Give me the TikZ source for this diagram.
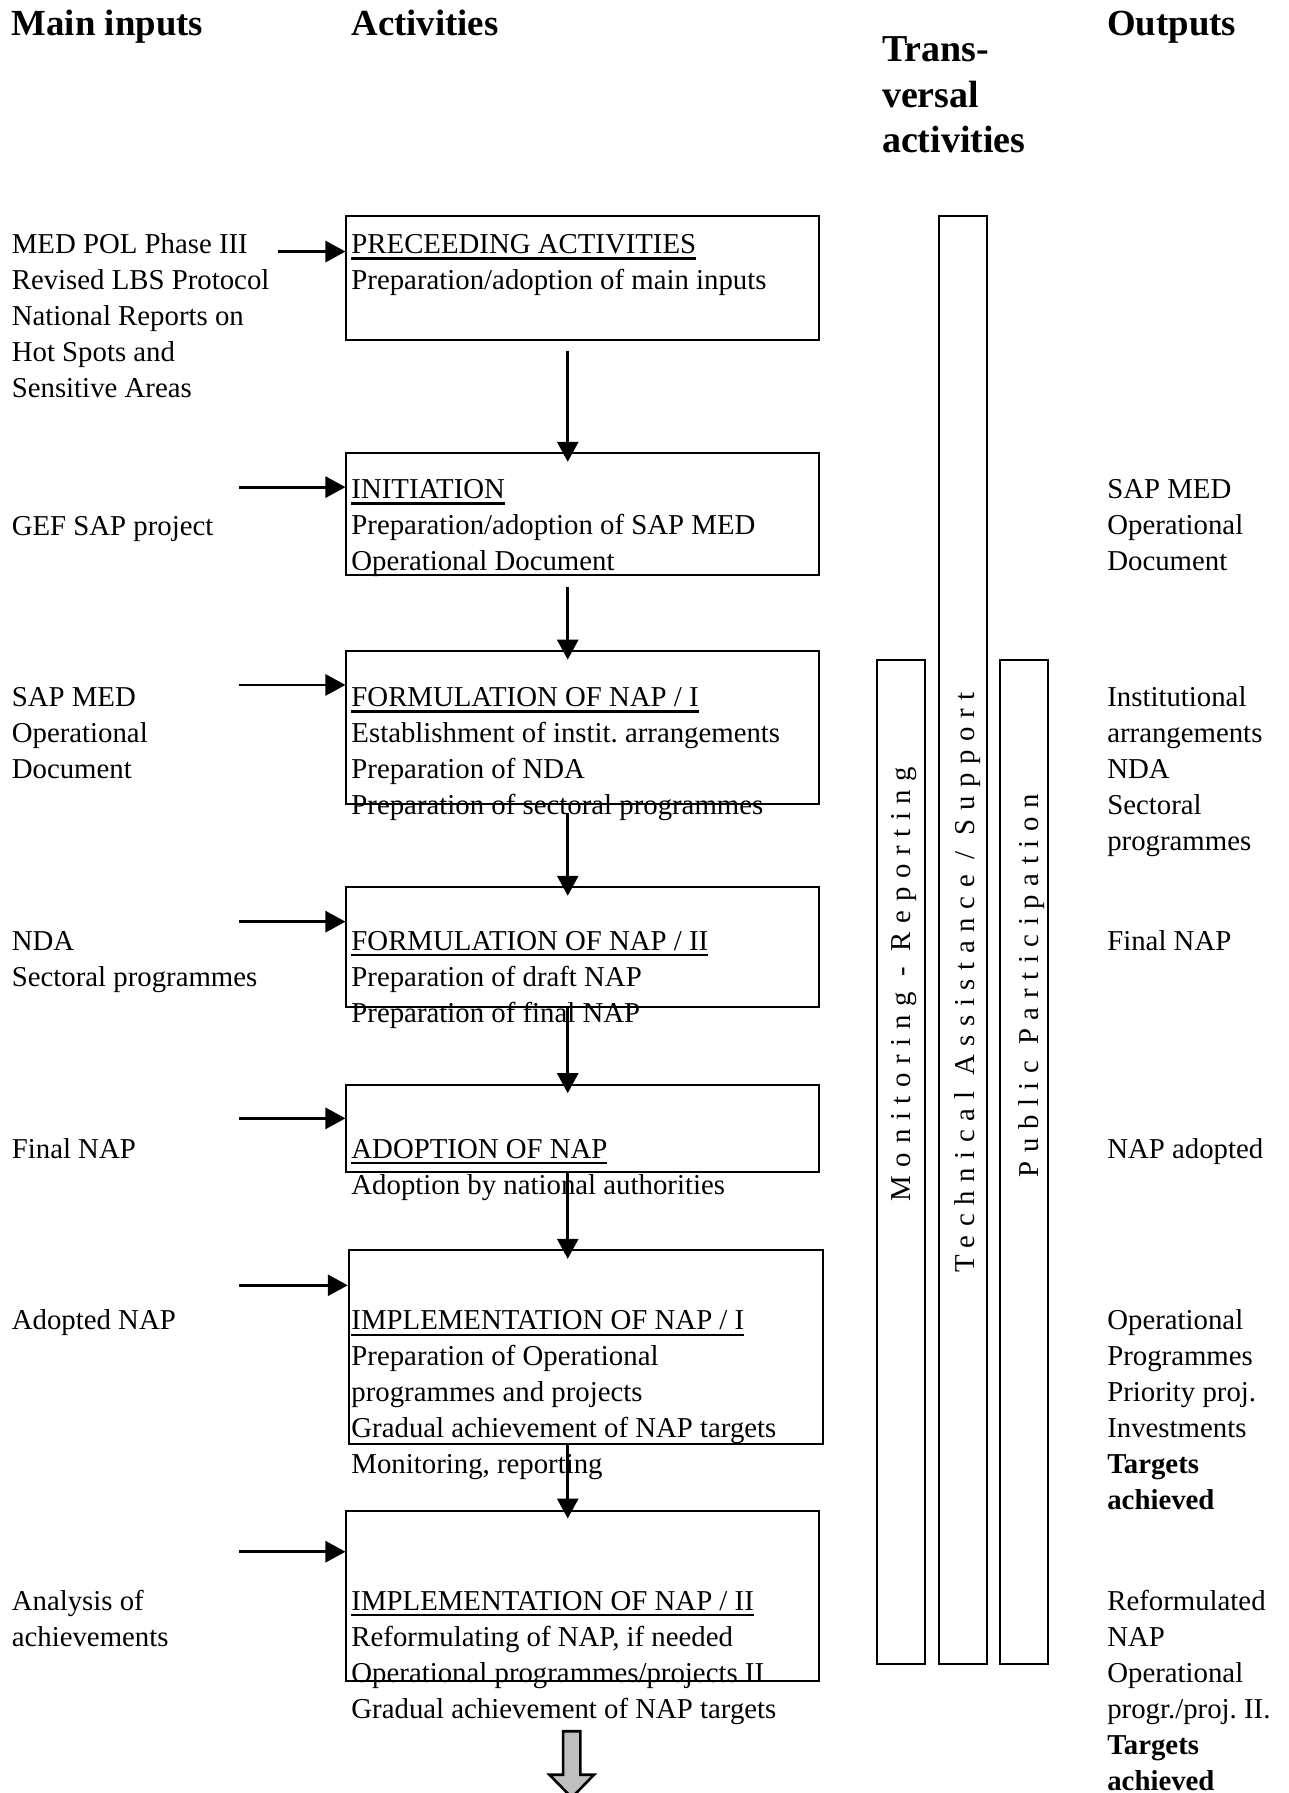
\documentclass[tikz,border=0pt]{standalone}
\usepackage{fontspec}
\setmainfont{Liberation Serif}
\usepackage{tikz}
\usetikzlibrary{arrows.meta, calc}
\frenchspacing

\newlength{\pxu}\setlength{\pxu}{0.5718pt}
\newsavebox{\ulbox}
\newcommand{\ulhead}[1]{\sbox{\ulbox}{#1}\rlap{\rule[-3pt]{\wd\ulbox}{1.2pt}}\usebox{\ulbox}}
\newcommand{\lines}[1]{\begin{tabular}[t]{@{}l@{}}#1\end{tabular}}
\newcommand{\bodyfont}{\fontsize{14.4}{18}\selectfont}
\newcommand{\headfont}{\fontsize{18.4}{22.8}\selectfont\bfseries}
\newcommand{\transfont}{\fontsize{19}{22.8}\selectfont\bfseries}
\newcommand{\barfont}{\fontsize{14.4}{18}\selectfont\addfontfeatures{LetterSpace=30}}

\tikzset{
  actbox/.style={draw, line width=1pt, minimum width=413\pxu},
  sidebar/.style={draw, line width=1pt, minimum width=42\pxu},
  txt/.style={anchor=base west, inner sep=0pt, font=\bodyfont},
  head/.style={txt, font=\headfont},
  bartxt/.style={anchor=base, rotate=90, inner sep=0pt, font=\barfont},
  flow/.style={-{Triangle[length=10pt,width=10.5pt]}, line width=1.4pt}
}

\begin{document}
\begin{tikzpicture}[x=\pxu, y=-\pxu]
\useasboundingbox (0,0) rectangle (1127,1568);

% Column headers
\node[head] (hin) at (10,31) {Main inputs};
\node[head] (hact) at (307,31) {Activities};
\node[head] (hout) at (968,31) {Outputs};
\node[head, font=\transfont] (htrans) at (771,54) {\lines{Trans-\\versal\\activities}};

% Activity boxes
\node[actbox, minimum height=108\pxu] (prec) at (509.5,243) {};
\node[actbox, minimum height=107\pxu] (init) at (509.5,449.5) {};
\node[actbox, minimum height=134\pxu] (form1) at (509.5,636) {};
\node[actbox, minimum height=105\pxu] (form2) at (509.5,828) {};
\node[actbox, minimum height=76\pxu] (adopt) at (509.5,987) {};
\node[actbox, minimum width=415\pxu, minimum height=170\pxu] (impl1) at (512.5,1178) {};
\node[actbox, minimum height=149\pxu] (impl2) at (509.5,1395.5) {};

% Transversal bars
\node[sidebar, minimum height=878\pxu] (monit) at (788,1016) {};
\node[sidebar, minimum height=1266\pxu] (techn) at (842,822) {};
\node[sidebar, minimum height=878\pxu] (public) at (895.5,1016) {};
\node[bartxt] (tmonit) at (796,860.5) {Monitoring - Reporting};
\node[bartxt] (ttechn) at (852.5,859) {Technical Assistance / Support};
\node[bartxt] (tpublic) at (908,862) {Public Participation};

% Main inputs
\node[txt] (inmed) at (10,222) {\lines{MED POL Phase III\\Revised LBS Protocol\\National Reports on\\Hot Spots and\\Sensitive Areas}};
\node[txt] (ingef) at (10,468) {GEF SAP project};
\node[txt] (insap) at (10,618) {\lines{SAP MED\\Operational\\Document}};
\node[txt] (innda) at (10,831) {\lines{NDA\\Sectoral programmes}};
\node[txt] (infinal) at (10,1013) {Final NAP};
\node[txt] (inadopt) at (10,1163) {Adopted NAP};
\node[txt] (inanal) at (10,1408) {\lines{Analysis of\\achievements}};

% Activities
\node[txt] (tprec) at (307,222) {\lines{\ulhead{PRECEEDING ACTIVITIES}\\Preparation/adoption of main inputs}};
\node[txt] (tinit) at (307,436) {\lines{\ulhead{INITIATION}\\Preparation/adoption of SAP MED\\Operational Document}};
\node[txt] (tform1) at (307,618) {\lines{\ulhead{FORMULATION OF NAP / I}\\Establishment of instit. arrangements\\Preparation of NDA\\Preparation of sectoral programmes}};
\node[txt] (tform2) at (307,831) {\lines{\ulhead{FORMULATION OF NAP / II}\\Preparation of draft NAP\\Preparation of final NAP}};
\node[txt] (tadopt) at (307,1013) {\lines{\ulhead{ADOPTION OF NAP}\\Adoption by national authorities}};
\node[txt] (timpl1) at (307,1163) {\lines{\ulhead{IMPLEMENTATION OF NAP / I}\\Preparation of Operational\\programmes and projects\\Gradual achievement of NAP targets\\Monitoring, reporting}};
\node[txt] (timpl2) at (307,1408) {\lines{\ulhead{IMPLEMENTATION OF NAP / II}\\Reformulating of NAP, if needed\\Operational programmes/projects II\\Gradual achievement of NAP targets}};

% Outputs
\node[txt] (osap) at (968,436) {\lines{SAP MED\\Operational\\Document}};
\node[txt] (oform1) at (968,618) {\lines{Institutional\\arrangements\\NDA\\Sectoral\\programmes}};
\node[txt] (oform2) at (968,831) {Final NAP};
\node[txt] (oadopt) at (968,1013) {NAP adopted};
\node[txt] (oimpl1) at (968,1163) {\lines{Operational\\Programmes\\Priority proj.\\Investments\\\textbf{Targets}\\\textbf{achieved}}};
\node[txt] (oimpl2) at (968,1408) {\lines{Reformulated\\NAP\\Operational\\progr./proj. II.\\\textbf{Targets}\\\textbf{achieved}}};

% Input arrows
\coordinate (a1) at (243,220);
\coordinate (a2) at (209,426);
\coordinate (a3) at (209,599);
\coordinate (a4) at (209,806);
\coordinate (a5) at (209,978);
\coordinate (a6) at (209,1124);
\coordinate (a7) at (209,1357);
\draw[flow] (a1) -- (prec.west |- a1);
\draw[flow] (a2) -- (init.west |- a2);
\draw[flow] (a3) -- (form1.west |- a3);
\draw[flow] (a4) -- (form2.west |- a4);
\draw[flow] (a5) -- (adopt.west |- a5);
\draw[flow] (a6) -- (impl1.west |- a6);
\draw[flow] (a7) -- (impl2.west |- a7);

% Sequence arrows
\coordinate (axis) at (496.5,0);
\draw[flow, shorten <=5pt, shorten >=-5pt] (prec.south -| axis) -- (init.north -| axis);
\draw[flow, shorten <=5.5pt, shorten >=-5pt] (init.south -| axis) -- (form1.north -| axis);
\draw[flow, shorten <=4pt, shorten >=-5pt] (form1.south -| axis) -- (form2.north -| axis);
\draw[flow, shorten >=-4.5pt] (form2.south -| axis) -- (adopt.north -| axis);
\draw[flow, shorten >=-5pt] (adopt.south -| axis) -- (impl1.north -| axis);
\draw[flow, shorten >=-4.5pt] (impl1.south -| axis) -- (impl2.north -| axis);

% Continuation arrow
\coordinate (next) at (500,1514);
\draw[line width=1.3pt, fill=black!25] ($(next)+(-7.5,0)$) -- ($(next)+(7.5,0)$) -- ($(next)+(7.5,38)$)
  -- ($(next)+(19.5,38)$) -- ($(next)+(0,58)$) -- ($(next)+(-19.5,38)$) -- ($(next)+(-7.5,38)$) -- cycle;
\end{tikzpicture}
\end{document}
